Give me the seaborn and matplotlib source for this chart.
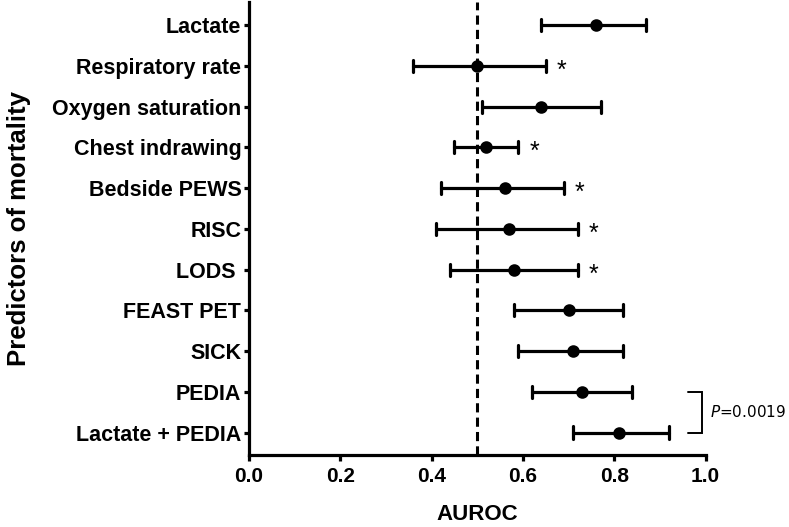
import numpy as np
import pandas as pd
import matplotlib
matplotlib.use("Agg")
import matplotlib.pyplot as plt
import seaborn as sns

predictors = ["Lactate", "Respiratory rate", "Oxygen saturation", "Chest indrawing",
              "Bedside PEWS", "RISC", "LODS ", "FEAST PET", "SICK", "PEDIA",
              "Lactate + PEDIA"]
auroc = [0.76, 0.50, 0.64, 0.52, 0.56, 0.57, 0.58, 0.70, 0.71, 0.73, 0.81]
ci_low = [0.64, 0.36, 0.51, 0.45, 0.42, 0.41, 0.44, 0.58, 0.59, 0.62, 0.71]
ci_high = [0.87, 0.65, 0.77, 0.59, 0.69, 0.72, 0.72, 0.82, 0.82, 0.84, 0.92]
significant = [False, True, False, True, True, True, True, False, False, False, False]
x_ticks = [0.0, 0.2, 0.4, 0.6, 0.8, 1.0]
p_label = r"$\mathit{P}$=0.0019"

sns.set_theme(style="ticks")
plt.rcParams["font.family"] = ["Liberation Sans", "DejaVu Sans"]
plt.rcParams["mathtext.fontset"] = "custom"
plt.rcParams["mathtext.rm"] = "DejaVu Sans"
plt.rcParams["mathtext.it"] = "DejaVu Sans:italic"
for k in ["text.color", "axes.labelcolor", "xtick.color", "ytick.color", "axes.edgecolor"]:
    plt.rcParams[k] = "black"

rows = []
for name, lo, m, hi in zip(predictors, ci_low, auroc, ci_high):
    for v in (lo, m, hi):
        rows.append({"Predictor": name, "AUROC": v})
df = pd.DataFrame(rows)

fig = plt.figure(figsize=(7.89, 5.27), dpi=100)
ax = fig.add_axes([0.3156, 0.1366, 0.5786, 0.859])

ax.axvline(0.5, color="black", lw=2.2, ls=(0, (3, 1.7)), zorder=1)

sns.pointplot(data=df, x="AUROC", y="Predictor", order=predictors,
              estimator="median", errorbar=("pi", 100), orient="h",
              linestyle="none", color="black", capsize=0.3,
              markersize=7, err_kws={"linewidth": 2.3}, ax=ax, zorder=3)

for i, (hi, sig) in enumerate(zip(ci_high, significant)):
    if sig:
        ax.text(hi + 0.035, i + 0.12, "*", ha="center", va="center",
                fontsize=18, color="black")

# bracket between PEDIA and Lactate + PEDIA
i1, i2 = predictors.index("PEDIA"), predictors.index("Lactate + PEDIA")
bx0, bx1 = 0.961, 0.992
ax.plot([bx0, bx1, bx1, bx0], [i1, i1, i2, i2], color="black", lw=1.4,
        clip_on=False, solid_joinstyle="miter")
ax.text(1.01, (i1 + i2) / 2, p_label, ha="left", va="center", fontsize=11,
        family="DejaVu Sans", clip_on=False)

ax.set_xlim(0, 1.0)
ax.set_ylim(len(predictors) - 1 + 0.55, -0.56)
ax.set_xticks(x_ticks)
ax.set_xticklabels([f"{t:.1f}" for t in x_ticks])
ax.set_xlabel("AUROC", fontsize=16, fontweight="bold", labelpad=13)
ax.set_ylabel("Predictors of mortality", fontsize=18.5, fontweight="bold", labelpad=15)

for s in ["top", "right"]:
    ax.spines[s].set_visible(False)
for s in ["left", "bottom"]:
    ax.spines[s].set_linewidth(2.3)
ax.tick_params(axis="x", length=4.5, width=2.3, labelsize=15, pad=4)
ax.tick_params(axis="y", length=3.5, width=2.3, labelsize=15.5, pad=2)
for lab in ax.get_xticklabels() + ax.get_yticklabels():
    lab.set_fontweight("bold")

fig.savefig("out.png", dpi=100)
